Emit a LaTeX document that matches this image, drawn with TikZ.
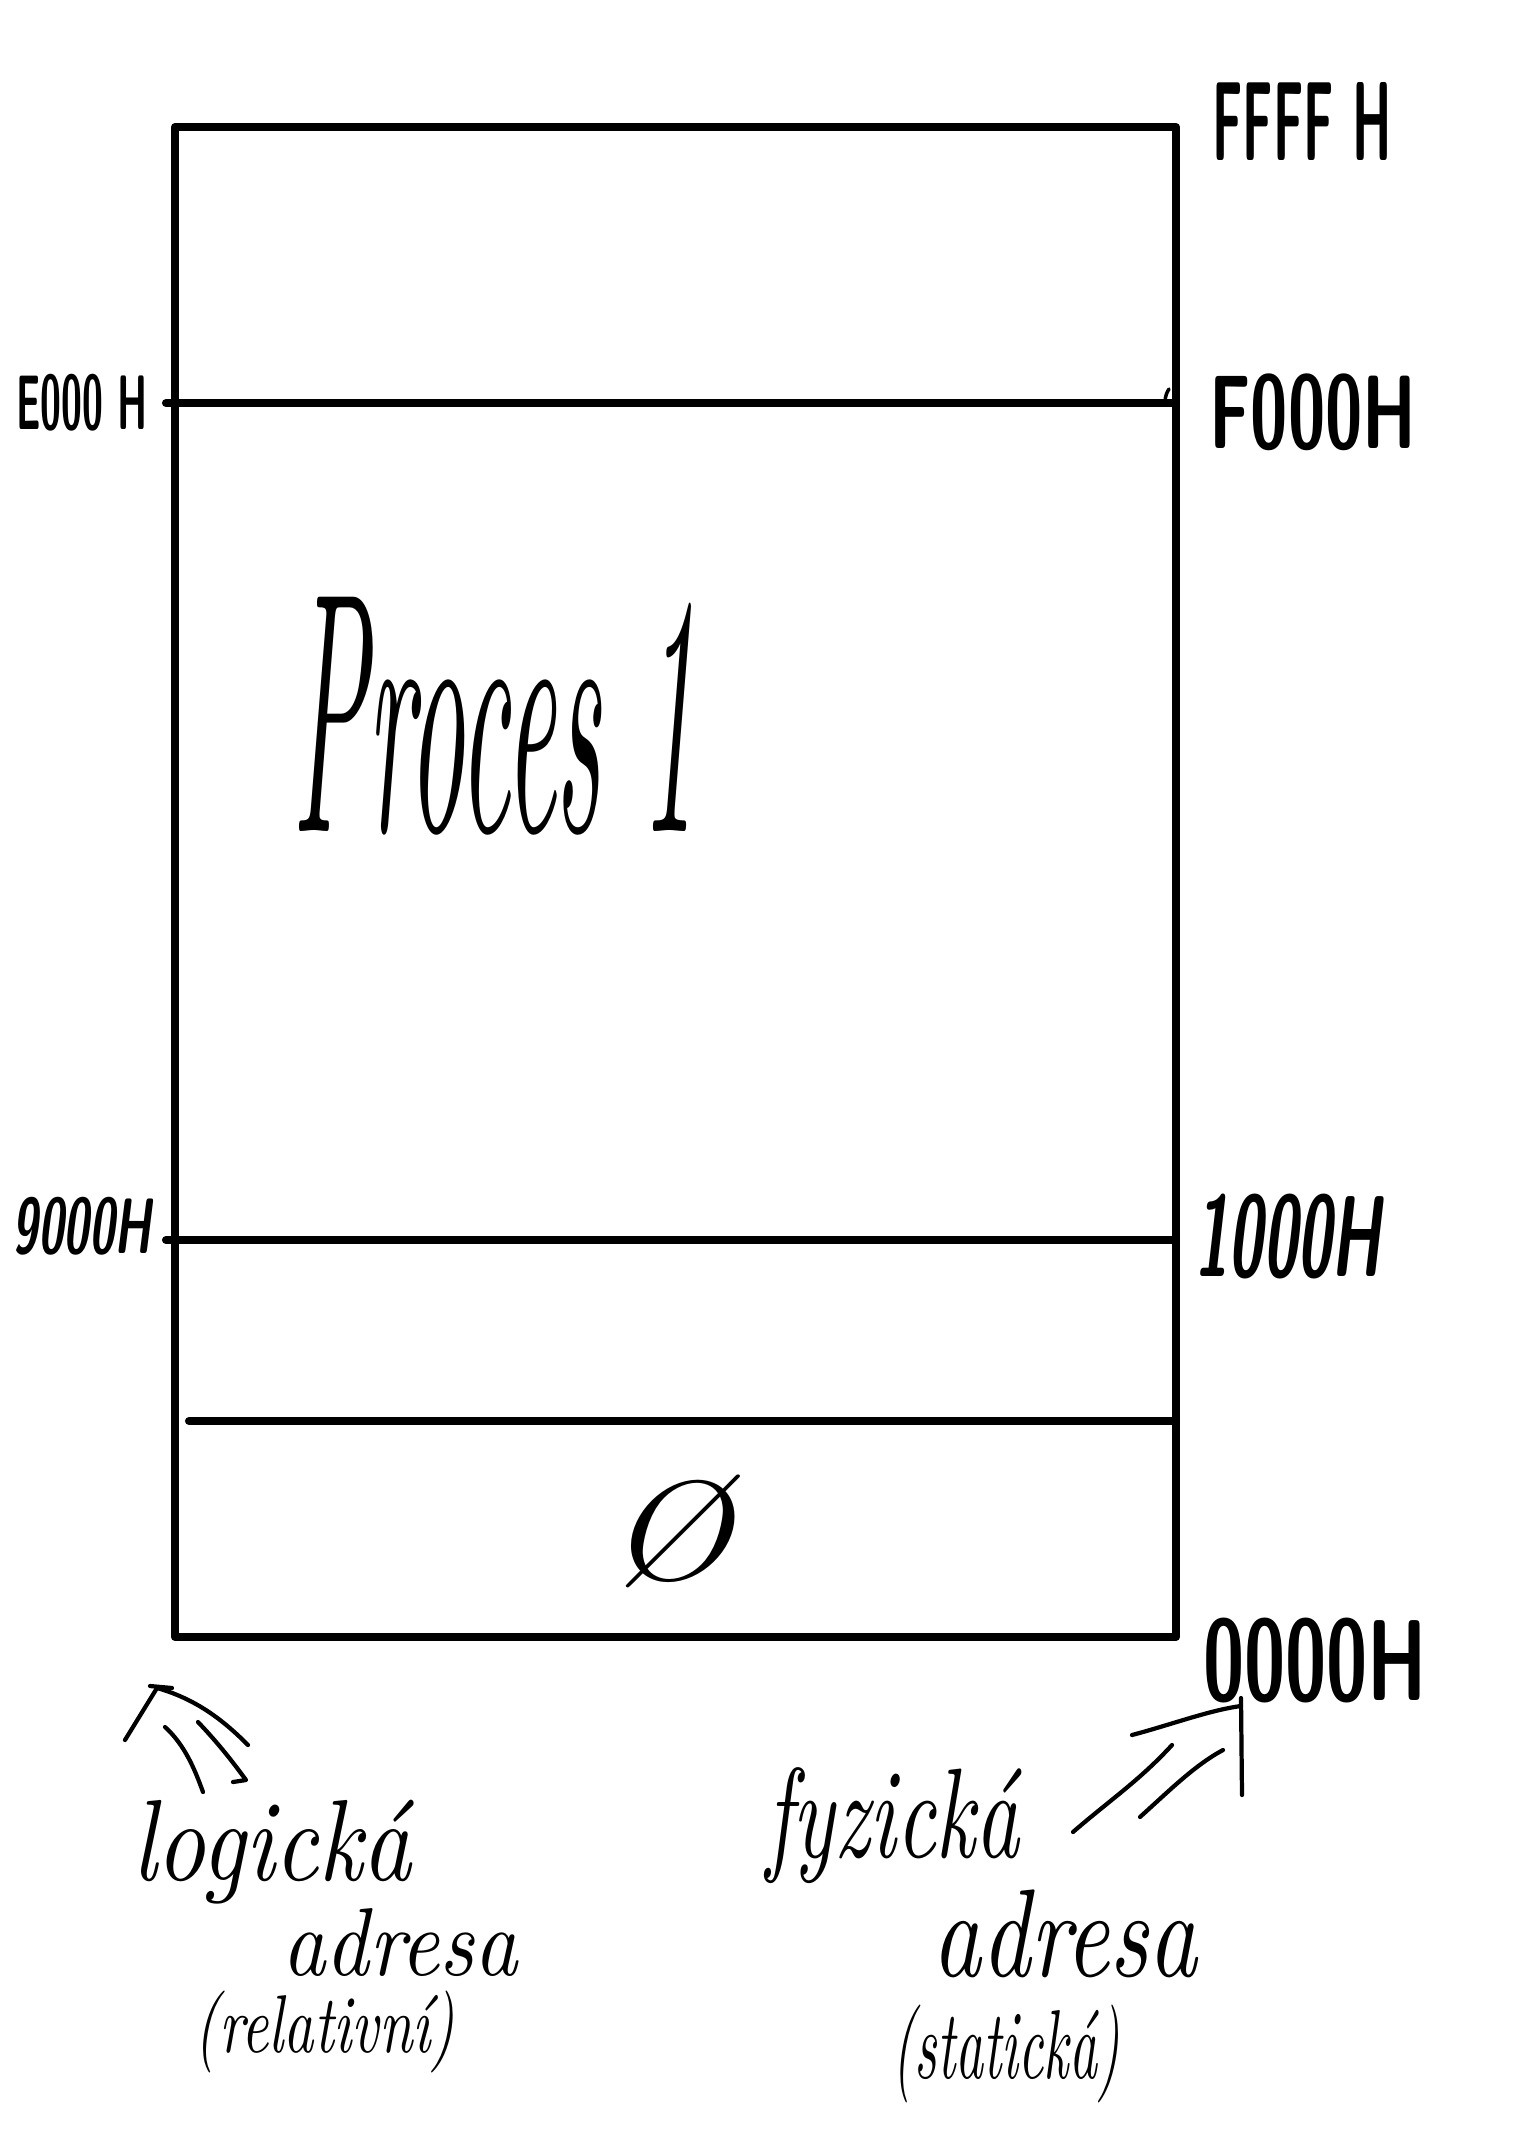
\documentclass[tikz,border=0pt]{standalone}
\usepackage{graphicx}
\newlength\pxu
\setlength\pxu{0.02cm}
\newcommand\fitbox[3]{\resizebox*{#1\pxu}{#2\pxu}{#3}}
\tikzset{
  frame/.style={line width=4.6pt, line cap=round, line join=round},
  ink/.style={line width=2.4pt, line cap=round, line join=round},
  hex/.style={inner sep=0pt, font=\sffamily\bfseries},
  hand/.style={inner sep=0pt, font=\itshape},
}
\begin{document}
\begin{tikzpicture}[x=0.02cm, y=-0.02cm]
\useasboundingbox (0,0) rectangle (1536,2144);
\fill[white] (0,0) rectangle (1536,2144);

% memory box
\draw[frame] (175,127) rectangle (1176,1637);
\coordinate (l1) at (166,403);
\coordinate (r1) at (1176,403);
\coordinate (l2) at (166,1240);
\coordinate (r2) at (1176,1240);
\coordinate (l3) at (189,1421);
\coordinate (r3) at (1176,1421);
\draw[frame] (l1) -- (r1);
\draw[frame] (l2) -- (r2);
\draw[frame] (l3) -- (r3);
\draw[ink, line width=2pt] (1165,403) .. controls (1165,396) and (1167,392) .. (1169,389);

% address labels
\node[hex] (ffff) at (1302,121) {\fitbox{179}{78}{FFFF H}};
\node[hex] (e000) at (82,403) {\fitbox{131}{57}{E000 H}};
\node[hex] (f000) at (1313,412) {\fitbox{207}{77}{F000H}};
\node[hex] (n9000) at (82,1226) {\fitbox{139}{58}{\slshape 9000H}};
\node[hex] (n1000) at (1288,1237) {\fitbox{187}{85}{\slshape 1000H}};
\node[hex] (n0000) at (1315,1661) {\fitbox{224}{85}{0000H}};

% contents
\node[hand] (proc) at (495,716) {\fitbox{404}{238}{Proces 1}};
\node[hand] (zero) at (670,1531) {\fitbox{124}{113}{\O}};

% bottom labels
\node[hand] (log1) at (272,1852) {\fitbox{279}{104}{logická}};
\node[hand] (log2) at (400,1943) {\fitbox{235}{68}{adresa}};
\node[hand] (log3) at (325,2032) {\fitbox{260}{82}{(relativní)}};
\node[hand] (fyz1) at (893,1826) {\fitbox{253}{116}{fyzická}};
\node[hand] (fyz2) at (1065,1934) {\fitbox{265}{88}{adresa}};
\node[hand] (fyz3) at (1006,2054) {\fitbox{227}{98}{(statická)}};

% left double arrow (points up-left to the logical address corner)
\coordinate (la) at (157,1688);
\draw[ink] (125,1740) -- (la);
\draw[ink] (150,1686) -- (172,1688);
\draw[ink] (la) .. controls (200,1700) and (228,1725) .. (248,1745);
\draw[ink] (165,1727) .. controls (185,1745) and (195,1770) .. (203,1792);
\draw[ink] (198,1722) .. controls (220,1745) and (235,1765) .. (246,1780) -- (233,1782);

% right double arrow (points up-right to the physical address corner)
\coordinate (ra) at (1241,1706);
\draw[ink] (1241,1698) -- (1242,1795);
\draw[ink] (1132,1735) .. controls (1170,1725) and (1210,1710) .. (ra);
\draw[ink] (1073,1832) .. controls (1110,1800) and (1140,1780) .. (1172,1745);
\draw[ink] (1140,1817) .. controls (1170,1790) and (1195,1765) .. (1223,1750);
\end{tikzpicture}
\end{document}
